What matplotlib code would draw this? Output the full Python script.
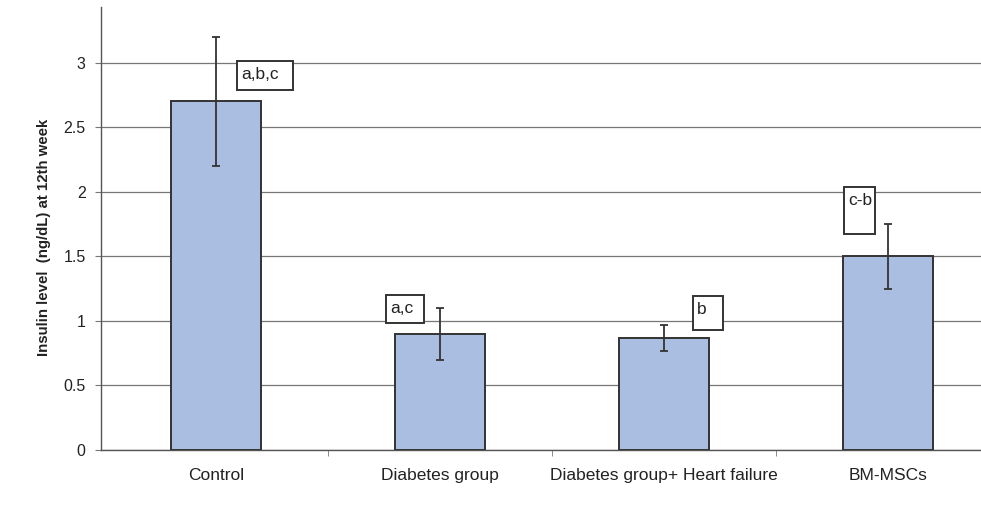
import numpy as np
import matplotlib
matplotlib.use('Agg')
import matplotlib.pyplot as plt
from matplotlib.patches import Rectangle
from matplotlib.ticker import FuncFormatter
from matplotlib.transforms import offset_copy

plt.rcParams['font.family'] = ['Liberation Sans', 'DejaVu Sans']

# group means and error (SD) of insulin at 12th week
groups = ['Control', 'Diabetes group', 'Diabetes group+ Heart failure', 'BM-MSCs']
insulin = [2.7, 0.9, 0.87, 1.5]
insulin_err = [0.5, 0.2, 0.1, 0.25]
sig_labels = ['a,b,c', 'a,c', 'b', 'c-b']

# significance boxes: (x0, x1, y_bottom, y_top) in data units
sig_boxes = [(0.094, 0.344, 2.79, 3.01),
             (0.759, 0.929, 0.98, 1.20),
             (2.130, 2.264, 0.93, 1.19),
             (2.804, 2.942, 1.67, 2.04)]

fig = plt.figure(figsize=(9.81, 5.08), dpi=100)
fig.patch.set_facecolor('white')
ax = fig.add_axes([101 / 981, 58 / 508, 899 / 981, 443 / 508])

x = np.arange(len(groups))
ax.bar(x, insulin, width=0.4, color='#aabee2', edgecolor='#333333',
       linewidth=1.4, zorder=3)
ax.errorbar(x, insulin, yerr=insulin_err, fmt='none', ecolor='#333333',
            elinewidth=1.3, capsize=3, capthick=1.3, zorder=4)

for (x0, x1, y0, y1), lab in zip(sig_boxes, sig_labels):
    ax.add_patch(Rectangle((x0, y0), x1 - x0, y1 - y0, facecolor='white',
                           edgecolor='#333333', linewidth=1.4, zorder=5))
    tr = offset_copy(ax.transData, fig=fig, x=4, y=-6, units='dots')
    ax.text(x0, y1, lab, transform=tr, ha='left', va='top', fontsize=12.5,
            color='#222222', zorder=6)

ax.set_xlim(-0.513, 3.5)
ax.set_ylim(0, 3.43)
ax.set_yticks(np.arange(0, 3.01, 0.5))
ax.yaxis.set_major_formatter(FuncFormatter(lambda v, p: '{:g}'.format(v)))
ax.grid(axis='y', color='#777777', linewidth=0.9, zorder=0)

ax.set_xticks(x)
ax.set_xticklabels(groups, fontsize=12.5, color='#222222')
ax.tick_params(axis='x', which='major', length=0, pad=13)
ax.set_xticks([0.5, 1.5, 2.5], minor=True)
ax.tick_params(axis='x', which='minor', length=4, color='#777777')
ax.tick_params(axis='y', length=4, color='#777777', labelsize=11.5,
               labelcolor='#222222', pad=7)

for side in ['top', 'right']:
    ax.spines[side].set_visible(False)
for side in ['left', 'bottom']:
    ax.spines[side].set_color('#555555')
    ax.spines[side].set_linewidth(1.0)

ax.set_ylabel('Insulin level  (ng/dL) at 12th week', fontsize=10.8,
              fontweight='bold', color='#222222')
ax.yaxis.set_label_coords(-0.056, 0.48)

fig.savefig('out.png', dpi=100)
